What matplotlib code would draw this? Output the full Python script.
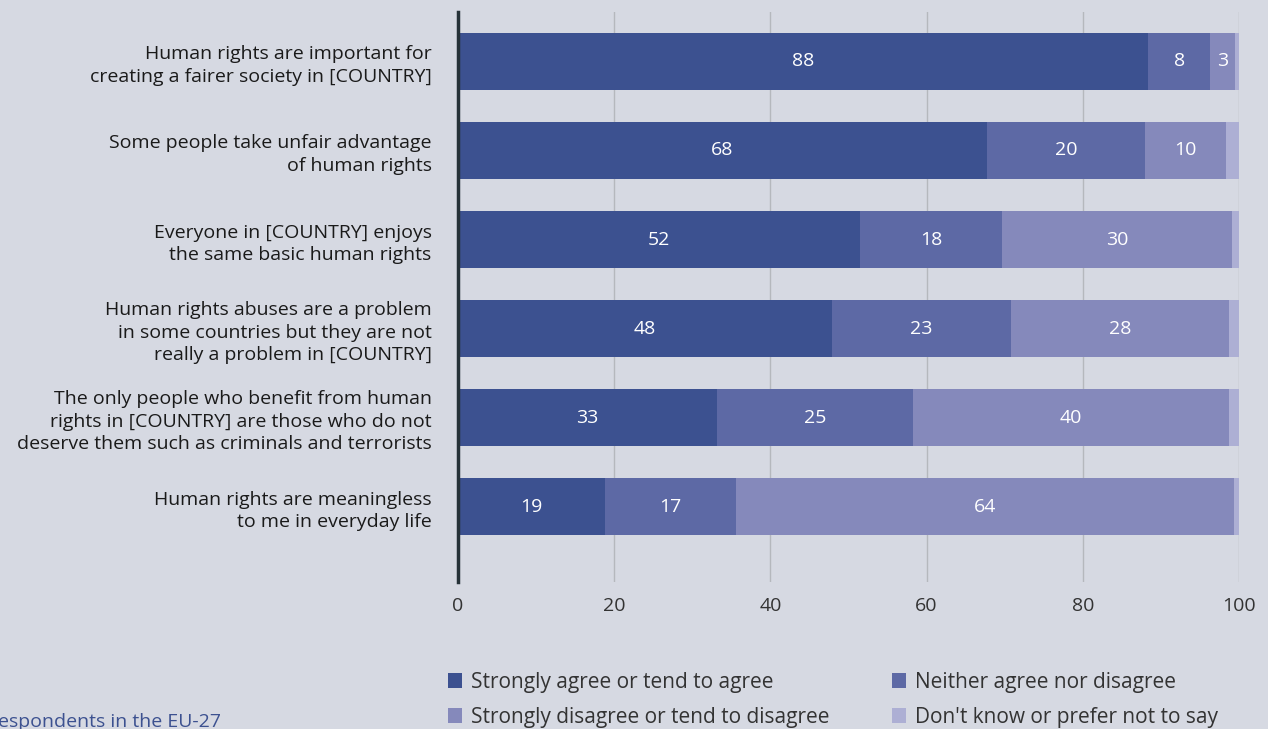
import matplotlib
matplotlib.use("Agg")
import matplotlib.pyplot as plt
from matplotlib.patches import Patch

categories = [
    "Human rights are important for\ncreating a fairer society in [COUNTRY]",
    "Some people take unfair advantage\nof human rights",
    "Everyone in [COUNTRY] enjoys\nthe same basic human rights",
    "Human rights abuses are a problem\nin some countries but they are not\nreally a problem in [COUNTRY]",
    "The only people who benefit from human\nrights in [COUNTRY] are those who do not\ndeserve them such as criminals and terrorists",
    "Human rights are meaningless\nto me in everyday life",
]
series_names = [
    "Strongly agree or tend to agree",
    "Neither agree nor disagree",
    "Strongly disagree or tend to disagree",
    "Don't know or prefer not to say",
]
agree    = [88.4, 67.7, 51.5, 47.9, 33.2, 18.8]
neither  = [7.9, 20.3, 18.2, 22.9, 25.1, 16.8]
disagree = [3.2, 10.3, 29.4, 27.9, 40.4, 63.8]
dontknow = [0.5, 1.7, 0.9, 1.3, 1.3, 0.6]
agree_lbl    = ["88", "68", "52", "48", "33", "19"]
neither_lbl  = ["8", "20", "18", "23", "25", "17"]
disagree_lbl = ["3", "10", "30", "28", "40", "64"]
xticks = [0, 20, 40, 60, 80, 100]

colors = ["#3c5190", "#5d69a5", "#8589bb", "#adafd4"]
bg = "#d6d9e2"
font = "Open Sans"

fig = plt.figure(figsize=(12.68, 7.29), dpi=100, facecolor=bg)
ax = fig.add_axes([458/1268, 1-582/729, (1239-458)/1268, (582-12)/729])
ax.set_facecolor(bg)

ypos = list(range(len(categories)))
series = [agree, neither, disagree, dontknow]
labels = [agree_lbl, neither_lbl, disagree_lbl, None]
left = [0.0]*len(categories)
for s, c, lb in zip(series, colors, labels):
    ax.barh(ypos, s, left=left, height=0.64, color=c, zorder=3)
    if lb is not None:
        for i, (l, w) in enumerate(zip(left, s)):
            ax.text(l + w/2, i, lb[i], ha="center", va="center", color="white",
                    fontsize=14, family=font, zorder=4)
    left = [a + b for a, b in zip(left, s)]

ax.set_xlim(0, 100)
ax.set_ylim(5.848, -0.556)
ax.set_yticks(ypos)
ax.set_yticklabels(categories, family=font, fontsize=14, color="#1a1a1a", linespacing=1.3)
ax.set_xticks(xticks)
ax.set_xticklabels([str(t) for t in xticks], family=font, fontsize=14, color="#333333")
ax.tick_params(axis="y", length=0, pad=19)
ax.tick_params(axis="x", length=0, pad=11)
ax.grid(axis="x", color="#b5b8bd", linewidth=1, zorder=0)
for sp in ["top", "right", "bottom"]:
    ax.spines[sp].set_visible(False)
ax.spines["left"].set_color("#263238")
ax.spines["left"].set_linewidth(2.5)
ax.spines["left"].set_zorder(5)

handles = [Patch(facecolor=c, edgecolor="none") for c in colors]
order = [0, 2, 1, 3]
fig.legend([handles[i] for i in order], [series_names[i] for i in order],
           ncol=2, loc="upper left", bbox_to_anchor=(429/1268, 1-653/729),
           frameon=False, handlelength=0.7, handleheight=0.7, handletextpad=0.4,
           columnspacing=3.0, labelspacing=0.66,
           prop={"family": font, "size": 15}, labelcolor="#333333")

fig.text(-14/1268, 1-727/729, "Respondents in the EU-27", color="#3c5190",
         family=font, fontsize=14, va="baseline", ha="left")

fig.savefig("out.png", dpi=100, facecolor=bg)
